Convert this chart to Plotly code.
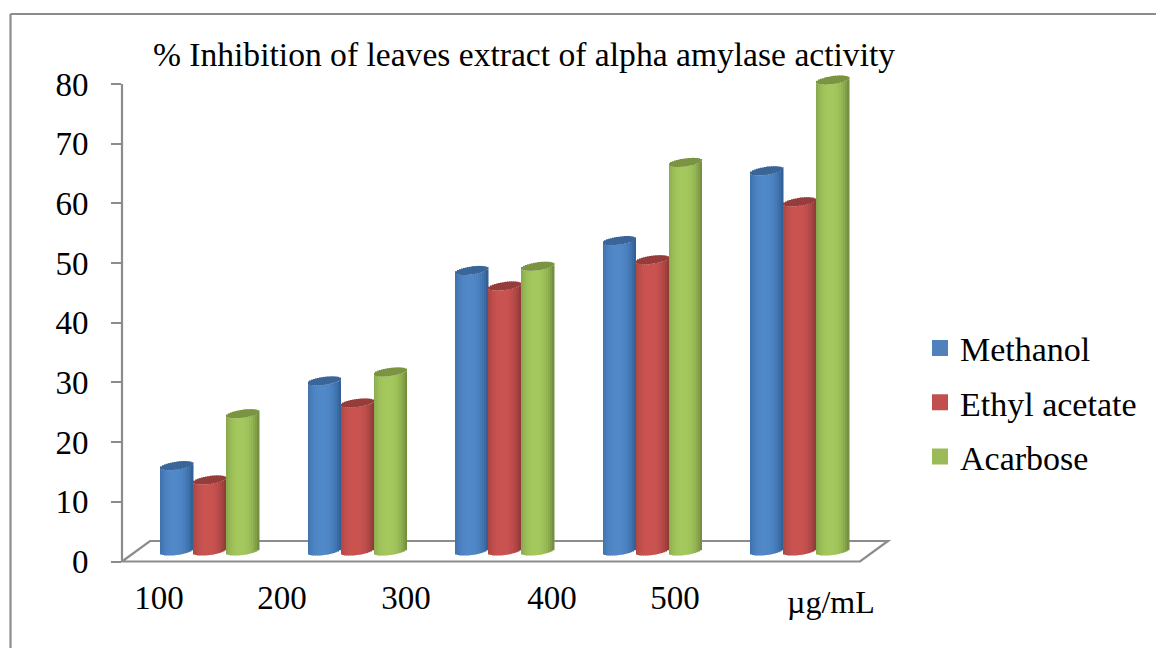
import math
import plotly.graph_objects as go

categories = ["100", "200", "300", "400", "500"]
methanol = [14.3, 28.5, 47.0, 52.0, 63.7]
ethyl_acetate = [11.9, 24.8, 44.4, 48.8, 58.5]
acarbose = [23.0, 30.0, 47.7, 65.1, 78.9]
series_names = ["Methanol", "Ethyl acetate", "Acarbose"]
series_values = [methanol, ethyl_acetate, acarbose]
y_ticks = [0, 10, 20, 30, 40, 50, 60, 70, 80]
unit_label = "µg/mL"

W, H = 1156, 648
PL, PR, PT, PB = 122, 888, 84, 561.5          # plot box in pixels
XC0, XSTEP = 210, 147.5                       # first group centre, group spacing
BAR_PX = 33
PY = (PB - PT) / 80                           # pixels per value unit
YMAX = 84                                     # head-room so the last cap is not cut
DEPTH = 10.5 / PY                             # bars stand 10px back on the floor
SEMI = 4.0 / PY                               # ellipse semi-minor
TILT = 2.2 / PY                               # ellipse tilt
N = 17

body = [("#2f5a8e", "#5088c8"), ("#8a3735", "#ca5350"), ("#6d883c", "#a4c85d")]
capc = ["#3a6598", "#963c3a", "#7b9441"]
swatch = ["#4f81bd", "#c0504d", "#9bbb59"]


def mix(a, b, t):
    ca = [int(a[i:i + 2], 16) for i in (1, 3, 5)]
    cb = [int(b[i:i + 2], 16) for i in (1, 3, 5)]
    return "rgb(%d,%d,%d)" % tuple(round(p + (q - p) * t) for p, q in zip(ca, cb))


def px_x(p):
    return p / W


def px_y(p):
    return 1 - p / H


fig = go.Figure()
for s, values in enumerate(series_values):
    xs, bases, lens, cols, cbases, clens, ccols = [], [], [], [], [], [], []
    for c, v in enumerate(values):
        center = c + (s - 1) * BAR_PX / XSTEP
        for j in range(N):
            u = -1 + (2 * j + 1) / N
            arc = math.sqrt(max(0, 1 - u * u)) * SEMI
            tilt = u * TILT
            f = 1 - min(1, abs(u + 0.12) / 1.12) ** 2.6
            xs.append(center + u * BAR_PX / XSTEP / 2)
            bottom = DEPTH + tilt - arc
            top = DEPTH + v + tilt - arc
            bases.append(bottom)
            lens.append(top - bottom)
            cols.append(mix(body[s][0], body[s][1], f))
            cbases.append(top)
            clens.append(2 * arc)
            ccols.append(capc[s])
    w = BAR_PX / XSTEP / N
    fig.add_bar(x=xs, y=lens, base=bases, width=w, marker=dict(color=cols, line_width=0),
                showlegend=False, hoverinfo="skip", cliponaxis=False)
    fig.add_bar(x=xs, y=clens, base=cbases, width=w, marker=dict(color=ccols, line_width=0),
                showlegend=False, hoverinfo="skip", cliponaxis=False)
    fig.add_scatter(x=[None], y=[None], mode="markers", name=series_names[s], legendgroup=series_names[s],
                    marker=dict(symbol="square", size=17, color=swatch[s]))

GRAY = "#8c8c8c"
line = dict(color=GRAY, width=2.2)
shapes = [
    # page frame
    dict(type="line", xref="paper", yref="paper", x0=px_x(10.5), x1=1, y0=px_y(14), y1=px_y(14), line=line),
    dict(type="line", xref="paper", yref="paper", x0=px_x(10.5), x1=px_x(10.5), y0=px_y(14), y1=0, line=line),
    # value axis line, stopping at the top tick
    dict(type="line", xref="paper", yref="paper", x0=px_x(PL), x1=px_x(PL), y0=px_y(PB), y1=px_y(PT), line=line),
    # chart floor
    dict(type="path", xref="paper", yref="paper", layer="below", line=line,
         path="M %f %f L %f %f L %f %f L %f %f Z" % (px_x(122), px_y(561.5), px_x(150), px_y(541),
                                                     px_x(888), px_y(541), px_x(860), px_y(561.5))),
]

label_px = [159, 282, 406, 552, 675]
fig.update_layout(
    width=W, height=H, margin=dict(l=0, r=0, t=0, b=0),
    paper_bgcolor="white", plot_bgcolor="rgba(0,0,0,0)",
    barmode="overlay", shapes=shapes,
    font=dict(family="Liberation Serif", color="black", size=33),
    title=dict(text="% Inhibition of leaves extract of alpha amylase activity",
               x=524 / W, xref="paper", xanchor="center", y=px_y(54), yref="paper", yanchor="middle",
               font=dict(family="Liberation Serif", size=33.6, color="black")),
    xaxis=dict(domain=[px_x(PL), px_x(PR)], automargin=False,
               range=[(PL - XC0) / XSTEP, (PR - XC0) / XSTEP],
               tickmode="array", tickvals=[(p - XC0) / XSTEP for p in label_px], ticktext=categories,
               ticks="", showgrid=False, zeroline=False, showline=False, ticklabelstandoff=13),
    yaxis=dict(domain=[px_y(PB), px_y(PB - YMAX * PY)], range=[0, YMAX], automargin=False,
               tickmode="array", tickvals=y_ticks, ticks="outside", ticklen=10, tickwidth=2, tickcolor=GRAY,
               showline=False, showgrid=False, zeroline=False, ticklabelstandoff=16),
    legend=dict(x=px_x(920), xanchor="left", y=px_y(319.5), yanchor="top", tracegroupgap=7,
                font=dict(family="Liberation Serif", size=34), itemsizing="trace", bgcolor="rgba(0,0,0,0)"),
    annotations=[dict(text=unit_label, xref="paper", yref="paper", x=px_x(831), y=px_y(602),
                      xanchor="center", yanchor="middle", showarrow=False,
                      font=dict(family="Liberation Serif", size=32, color="black"))],
)

fig.write_html("out.html", post_script="document.body.style.margin='0';", config=dict(displayModeBar=False))
